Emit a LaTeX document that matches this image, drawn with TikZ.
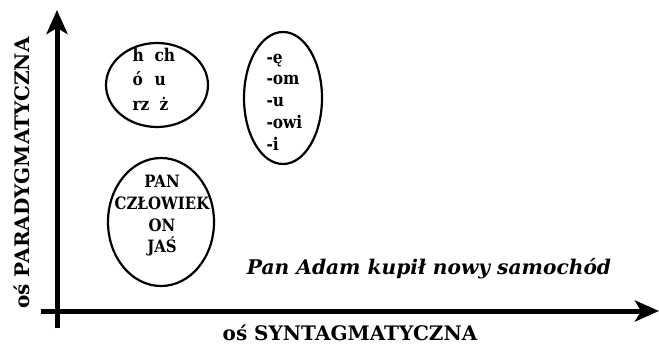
\documentclass[tikz,border=0pt]{standalone}
\usepackage{fontspec}
\setmainfont{DejaVu Serif}
\newfontfamily\condserif[FakeStretch=0.88]{DejaVu Serif}
\usetikzlibrary{arrows.meta}
\begin{document}
\begin{tikzpicture}[x=1pt,y=-1pt,
  axis/.style={line width=5pt,-{Stealth[length=24pt,width=21pt,inset=6pt]}},
  oval/.style={line width=2.2pt},
  lbl/.style={font=\fontsize{20}{24}\selectfont\bfseries},
  itm/.style={font=\fontsize{17.5}{24.5}\selectfont\condserif\bfseries}]
\useasboundingbox (0,0) rectangle (659,345);
% axes
\coordinate (vb) at (57,328);
\coordinate (vt) at (57,10);
\coordinate (hl) at (41,311);
\coordinate (hr) at (659,311);
\draw[axis] (vb) -- (vt);
\draw[axis] (hl) -- (hr);
% ovals
\draw[oval] (157,85) ellipse [x radius=51, y radius=42];
\draw[oval] (283,98) ellipse [x radius=39, y radius=66];
\draw[oval] (161,222) ellipse [x radius=53, y radius=64];
\node[itm,align=left,anchor=west] (g1) at (129,79) {\makebox[22pt][l]{h}ch\\\makebox[22pt][l]{ó}u\\\makebox[27pt][l]{rz}ż};
\node[itm,align=left,anchor=west,font=\fontsize{17.5}{21.8}\selectfont\condserif\bfseries] (g2) at (263,102) {-ę\\-om\\-u\\-owi\\-i};
\node[align=center,font=\fontsize{17}{21.7}\selectfont\condserif\bfseries] (g3) at (162,216) {PAN\\CZŁOWIEK\\ON\\JAŚ};
\node[font=\fontsize{20.2}{24}\selectfont\bfseries\itshape] (s) at (429,269) {Pan Adam kupił nowy samochód};
\node[lbl] (xl) at (350,333) {oś SYNTAGMATYCZNA};
\node[lbl,rotate=90,font=\fontsize{20}{24}\selectfont\bfseries] (yl) at (22,173) {oś PARADYGMATYCZNA};
\end{tikzpicture}
\end{document}
